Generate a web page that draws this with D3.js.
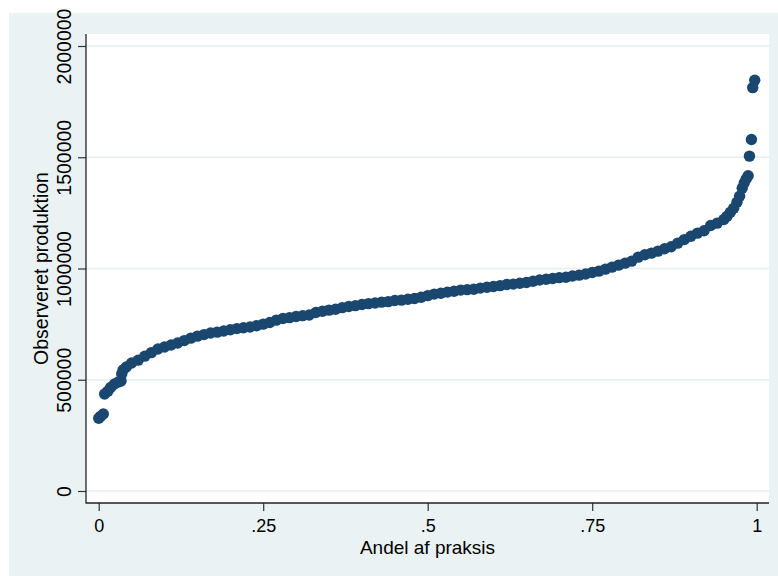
<!DOCTYPE html>
<html>
<head>
<meta charset="utf-8">
<script src="https://cdn.jsdelivr.net/npm/d3@7"></script>
<style>
  body { margin: 0; background: #fff; }
  text { font-family: "Liberation Sans", Arial, sans-serif; fill: #000; }
</style>
</head>
<body>
<div id="chart"></div>
<script>
// andel af praksis (rang / n) og observeret produktion
var andel = [0, .003, .007, .009, .014, .018, .024, .030, .034, .035, .037, .042,
  .05, .06, .07, .08, .09, .10, .11, .12, .13, .14, .15, .16, .17, .18, .19,
  .20, .21, .22, .23, .24, .25, .26, .27, .28, .29, .30, .31, .32, .33, .34,
  .35, .36, .37, .38, .39, .40, .41, .42, .43, .44, .45, .46, .47, .48, .49,
  .50, .51, .52, .53, .54, .55, .56, .57, .58, .59, .60, .61, .62, .63, .64,
  .65, .66, .67, .68, .69, .70, .71, .72, .73, .74, .75, .76, .77, .78, .79,
  .80, .81, .82, .83, .84, .85, .86, .87, .88, .89, .90, .91, .92, .93, .94,
  .95, .955, .96, .965, .97, .974, .978, .981, .984, .987, .989, .992, .994, .997]

var produktion = [327000, 336000, 346000, 436000, 449000, 465000, 481000, 490000, 494000, 526000, 544000, 557000,
  575000, 588000, 606000, 622000, 638000, 647000, 656000, 665000, 676000, 687000, 696000, 703000, 710000, 714000, 719000,
  725000, 730000, 734000, 737000, 743000, 750000, 757000, 768000, 775000, 779000, 784000, 788000, 791000, 802000, 808000,
  813000, 817000, 824000, 829000, 833000, 838000, 842000, 845000, 849000, 851000, 856000, 858000, 862000, 865000, 871000,
  878000, 885000, 889000, 894000, 898000, 903000, 905000, 907000, 912000, 916000, 919000, 923000, 928000, 930000, 934000,
  937000, 943000, 948000, 952000, 955000, 959000, 961000, 966000, 970000, 975000, 982000, 988000, 997000, 1006000, 1015000,
  1024000, 1033000, 1051000, 1062000, 1069000, 1078000, 1089000, 1098000, 1114000, 1130000, 1145000, 1159000, 1170000, 1193000, 1204000,
  1220000, 1235000, 1253000, 1271000, 1298000, 1325000, 1361000, 1384000, 1402000, 1417000, 1505000, 1580000, 1813000, 1846000]

var xTicks = [0, .25, .5, .75, 1]
var xTickLabels = ['0', '.25', '.5', '.75', '1']
var yTicks = [0, 500000, 1000000, 1500000, 2000000]
var yTickLabels = ['0', '500000', '1000000', '1500000', '2000000']

var data = andel.map(function(a, i){ return {andel: a, produktion: produktion[i]} })

var width = 778, height = 576
var plot = {left: 86, right: 769, top: 34, bottom: 503}

var svg = d3.select('#chart').append('svg')
  .attr('width', width).attr('height', height)

// baggrund (graph region) og hvid plotregion
svg.append('rect').attr('x', 9).attr('y', 13)
  .attr('width', width - 9).attr('height', height - 13).attr('fill', '#eaf2f3')
svg.append('rect').attr('x', plot.left).attr('y', plot.top)
  .attr('width', plot.right - plot.left).attr('height', plot.bottom - plot.top).attr('fill', '#fff')

var x = d3.scaleLinear().domain([0, 1]).range([98.7, 756.7])
var y = d3.scaleLinear().domain([0, 2000000]).range([491, 46])

// gitterlinjer
svg.append('g').selectAll('line').data(yTicks).enter().append('line')
  .attr('x1', plot.left).attr('x2', plot.right)
  .attr('y1', function(d){ return y(d) }).attr('y2', function(d){ return y(d) })
  .attr('stroke', '#e6eef0').attr('stroke-width', 1.5)

// punkter
svg.append('g').selectAll('circle').data(data).enter().append('circle')
  .attr('cx', function(d){ return x(d.andel) })
  .attr('cy', function(d){ return y(d.produktion) })
  .attr('r', 5.7)
  .attr('fill', '#1a476f')

// y-akse
var yAxis = d3.axisLeft(y).tickValues(yTicks).tickSize(8).tickPadding(0)
  .tickFormat(function(d, i){ return yTickLabels[i] })
var yg = svg.append('g').attr('transform', 'translate(' + plot.left + ',0)').call(yAxis)
yg.select('.domain').remove()
yg.selectAll('.tick line').attr('stroke', '#333').attr('stroke-width', 1.2)
yg.selectAll('.tick text')
  .attr('x', null).attr('dy', null)
  .attr('transform', 'translate(-15.5,0) rotate(-90)')
  .attr('text-anchor', 'middle')
  .attr('font-size', 19.5).attr('fill', '#000')
  .style('font-family', '"Liberation Sans", Arial, sans-serif')

// x-akse
var xAxis = d3.axisBottom(x).tickValues(xTicks).tickSize(8).tickPadding(0)
  .tickFormat(function(d, i){ return xTickLabels[i] })
var xg = svg.append('g').attr('transform', 'translate(0,' + plot.bottom + ')').call(xAxis)
xg.select('.domain').remove()
xg.selectAll('.tick line').attr('stroke', '#333').attr('stroke-width', 1.2)
xg.selectAll('.tick text')
  .attr('y', 29).attr('dy', null)
  .attr('font-size', 18).attr('fill', '#000')
  .style('font-family', '"Liberation Sans", Arial, sans-serif')

// aksestreger
svg.append('line').attr('x1', plot.left).attr('x2', plot.left)
  .attr('y1', plot.top).attr('y2', plot.bottom + 0.5)
  .attr('stroke', '#222').attr('stroke-width', 1.3)
svg.append('line').attr('x1', plot.left).attr('x2', plot.right)
  .attr('y1', plot.bottom).attr('y2', plot.bottom)
  .attr('stroke', '#222').attr('stroke-width', 1.3)

// aksetitler
svg.append('text').text('Andel af praksis')
  .attr('x', (plot.left + plot.right) / 2).attr('y', 554)
  .attr('text-anchor', 'middle').attr('font-size', 19)
svg.append('text').text('Observeret produktion')
  .attr('transform', 'translate(48,' + (plot.top + plot.bottom) / 2 + ') rotate(-90)')
  .attr('text-anchor', 'middle').attr('font-size', 19.5)
</script>
</body>
</html>
